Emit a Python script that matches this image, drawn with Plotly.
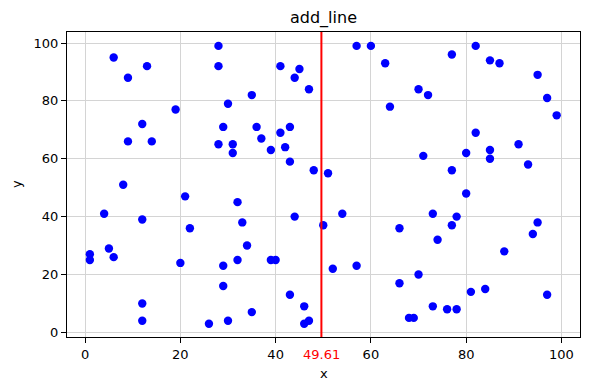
import plotly.graph_objects as go

x_vals = [1, 1, 4, 5, 6, 6, 8, 9, 9, 12, 12, 12, 12, 13, 14, 19, 20, 21, 22,
          28, 28, 28, 29, 29, 29, 30, 30, 31, 31, 26, 32, 32, 33, 34, 35, 35,
          36, 37, 39, 39, 40, 41, 41, 42, 43, 43, 43, 44, 44, 45, 46, 46, 47,
          47, 48, 50, 51, 52, 54, 57, 57, 60, 63, 64, 66, 66, 68, 69, 70, 70,
          71, 72, 73, 73, 74, 76, 77, 77, 77, 78, 78, 80, 80, 81, 82, 82, 84,
          85, 85, 85, 87, 88, 91, 93, 94, 95, 95, 97, 97, 99]
y_vals = [27, 25, 41, 29, 95, 26, 51, 88, 66, 72, 39, 10, 4, 92, 66, 77, 24, 47, 36,
          99, 92, 65, 71, 23, 16, 79, 4, 65, 62, 3, 45, 25, 38, 30, 82, 7,
          71, 67, 63, 25, 25, 69, 92, 64, 71, 59, 13, 88, 40, 91, 9, 3, 4,
          84, 56, 37, 55, 22, 41, 99, 23, 99, 93, 78, 36, 17, 5, 5, 84, 20,
          61, 82, 41, 9, 32, 8, 96, 56, 37, 40, 8, 62, 48, 14, 99, 69, 15,
          94, 63, 60, 93, 28, 65, 58, 34, 89, 38, 81, 13, 75]
line_x = 49.61
line_label = "49.61"
title_text = "add_line"
x_ticks = [0, 20, 40, 60, 80, 100]
y_ticks = [0, 20, 40, 60, 80, 100]

FONT = "DejaVu Sans"

fig = go.Figure()
fig.add_trace(go.Scatter(
    x=x_vals, y=y_vals, mode="markers",
    marker=dict(color="#0000ff", size=8.4, line=dict(width=0)),
    showlegend=False, hoverinfo="skip",
))

fig.add_shape(type="line", xref="x", yref="paper", x0=line_x, x1=line_x,
              y0=0, y1=1, line=dict(color="#ff0000", width=2))

axis_common = dict(
    showgrid=True, gridcolor="#d4d4d4", gridwidth=1,
    showline=True, linecolor="black", linewidth=1, mirror=True,
    ticks="outside", ticklen=5, tickwidth=1, tickcolor="black",
    zeroline=False,
    tickfont=dict(family=FONT, size=13, color="black"),
)

fig.update_layout(
    width=590, height=390,
    margin=dict(l=67, r=10, t=32, b=53),
    paper_bgcolor="white", plot_bgcolor="white",
    font=dict(family=FONT, color="black"),
    xaxis=dict(range=[-3.8, 103.9], tickvals=x_ticks, **axis_common),
    yaxis=dict(range=[-1.6, 103.8], tickvals=y_ticks, **axis_common),
    annotations=[
        dict(text=title_text, xref="paper", yref="paper", x=0.5, y=1,
             yshift=2, xanchor="center", yanchor="bottom", showarrow=False,
             font=dict(family=FONT, size=16, color="black")),
        dict(text="x", xref="paper", yref="paper", x=0.5, y=0,
             yshift=-27, xanchor="center", yanchor="top", showarrow=False,
             font=dict(family=FONT, size=13, color="black")),
        dict(text="y", xref="paper", yref="paper", x=0, y=0.5,
             xshift=-41, xanchor="right", yanchor="middle", showarrow=False,
             textangle=-90,
             font=dict(family=FONT, size=13, color="black")),
        dict(text=line_label, xref="x", yref="paper", x=line_x, y=0,
             yshift=-8, xanchor="center", yanchor="top", showarrow=False,
             font=dict(family=FONT, size=13, color="#ff0000")),
    ],
)

fig.write_html("out.html")
